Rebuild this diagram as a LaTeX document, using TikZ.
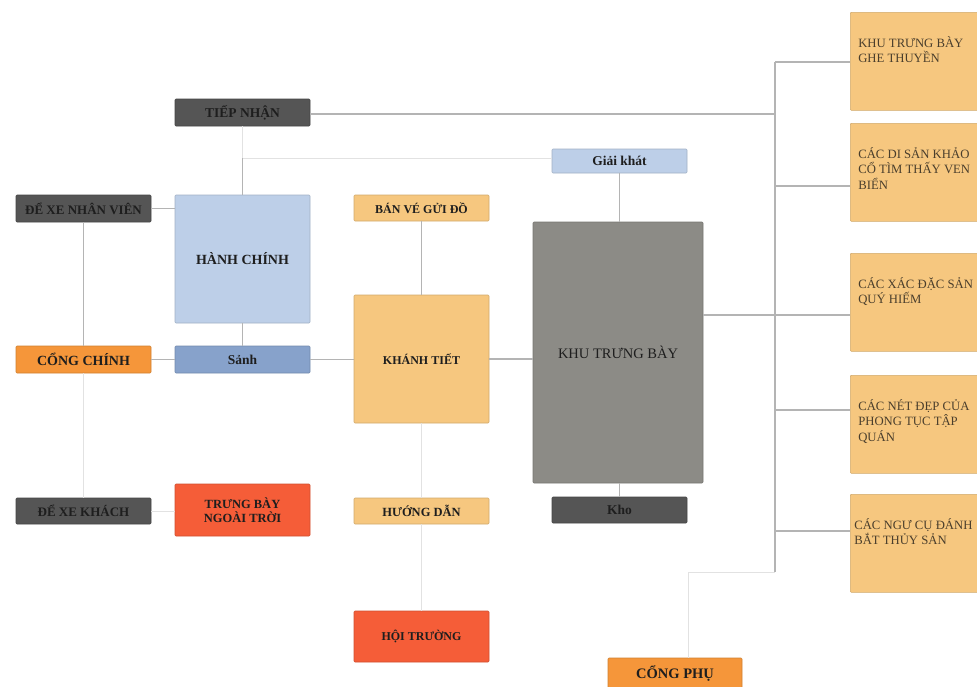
\documentclass[tikz,border=0pt]{standalone}
\usepackage{fontspec}
\setmainfont{Liberation Serif}
\usetikzlibrary{positioning}

\definecolor{boxdark}{HTML}{555555}
\definecolor{boxblue}{HTML}{BDCFE8}
\definecolor{boxsteel}{HTML}{87A2CB}
\definecolor{boxorange}{HTML}{F5963A}
\definecolor{boxred}{HTML}{F55D38}
\definecolor{boxsand}{HTML}{F6C77F}
\definecolor{boxgray}{HTML}{8C8B86}
\definecolor{linkgray}{HTML}{B4B4B4}
\definecolor{linklight}{HTML}{E2E2E2}
\definecolor{inkdark}{HTML}{1E1E1E}
\definecolor{inkbrown}{HTML}{4A3E2C}

\tikzset{
  block/.style={rectangle, rounded corners=1pt, inner sep=2pt, align=center,
    font=\bfseries, text=inkdark, line width=0.6pt},
  darkbox/.style={block, fill=boxdark, draw=boxdark!80!black},
  bluebox/.style={block, fill=boxblue, draw=boxblue!85!black},
  steelbox/.style={block, fill=boxsteel, draw=boxsteel!85!black},
  orangebox/.style={block, fill=boxorange, draw=boxorange!85!black},
  redbox/.style={block, fill=boxred, draw=boxred!85!black},
  sandbox/.style={block, fill=boxsand, draw=boxsand!85!black},
  showbox/.style={block, fill=boxgray, draw=boxgray!85!black, font=\normalfont},
  themebox/.style={rectangle, rounded corners=1pt, inner sep=0pt, anchor=north west,
    fill=boxsand, draw=boxsand!85!black, line width=0.6pt, text=inkbrown,
    minimum width=140pt, minimum height=98pt},
  link/.style={draw=linkgray, line width=1.3pt},
  faint/.style={draw=linklight, line width=1pt}
}

% theme box text, set at the top left
\newcommand{\themetext}[1]{\parbox[t][50pt][t]{124pt}{\fontsize{12.7}{15.5}\selectfont\raggedright #1}}

\begin{document}
\begin{tikzpicture}[x=1pt,y=-1pt]
  \useasboundingbox (0,0) rectangle (977,686);

  % Left column
  \node[darkbox, minimum width=135pt, minimum height=27pt, font=\bfseries\fontsize{13}{15}\selectfont]
    (dexenv) at (83.5,208.5) {ĐỂ XE NHÂN VIÊN};
  \node[orangebox, minimum width=135pt, minimum height=27pt, font=\bfseries\fontsize{14}{16}\selectfont]
    (congchinh) at (83.5,359.5) {CỔNG CHÍNH};
  \node[darkbox, minimum width=135pt, minimum height=26pt, font=\bfseries\fontsize{13}{15}\selectfont]
    (dexekhach) at (83.5,511) {ĐỂ XE KHÁCH};

  % Second column
  \node[darkbox, minimum width=135pt, minimum height=27pt, font=\bfseries\fontsize{13.5}{15}\selectfont]
    (tiepnhan) at (242.5,112.5) {TIẾP NHẬN};
  \node[bluebox, minimum width=135pt, minimum height=128pt, font=\bfseries\fontsize{14}{16}\selectfont]
    (hanhchinh) at (242.5,259) {HÀNH CHÍNH};
  \node[steelbox, minimum width=135pt, minimum height=27pt, font=\bfseries\fontsize{13.5}{15}\selectfont]
    (sanh) at (242.5,359.5) {Sảnh};
  \node[redbox, minimum width=135pt, minimum height=52pt, font=\bfseries\fontsize{12.5}{14.5}\selectfont]
    (ngoaitroi) at (242.5,510) {TRƯNG BÀY\\NGOÀI TRỜI};

  % Third column
  \node[sandbox, minimum width=135pt, minimum height=26pt, font=\bfseries\fontsize{12}{14}\selectfont]
    (banve) at (421.5,208) {BÁN VÉ GỬI ĐỒ};
  \node[sandbox, minimum width=135pt, minimum height=128pt, font=\bfseries\fontsize{12}{14}\selectfont]
    (khanhtiet) at (421.5,359) {KHÁNH TIẾT};
  \node[sandbox, minimum width=135pt, minimum height=26pt, font=\bfseries\fontsize{12.5}{14}\selectfont]
    (huongdan) at (421.5,511) {HƯỚNG DẪN};
  \node[redbox, minimum width=135pt, minimum height=51pt, font=\bfseries\fontsize{12}{14}\selectfont]
    (hoitruong) at (421.5,636.5) {HỘI TRƯỜNG};

  % Fourth column
  \node[bluebox, minimum width=135pt, minimum height=24pt, font=\bfseries\fontsize{13.5}{15}\selectfont]
    (giaikhat) at (619.5,161) {Giải khát};
  \node[showbox, minimum width=170pt, minimum height=261pt, font=\fontsize{14.5}{16}\selectfont]
    (khutrungbay) at (618,352.5) {KHU TRƯNG BÀY};
  \node[darkbox, minimum width=135pt, minimum height=26pt, font=\bfseries\fontsize{13.5}{15}\selectfont]
    (kho) at (619.5,510) {Kho};
  \node[orangebox, minimum width=134pt, minimum height=30pt, font=\bfseries\fontsize{14.5}{16}\selectfont]
    (congphu) at (675,673) {CỔNG PHỤ};

  % Theme boxes on the right
  \node[themebox] (ghethuyen) at (850,12) {\themetext{KHU TRƯNG BÀY GHE THUYỀN}};
  \node[themebox] (disan) at (850,123) {\themetext{CÁC DI SẢN KHẢO CỔ TÌM THẤY VEN BIỂN}};
  \node[themebox] (dacsan) at (850,253) {\themetext{CÁC XÁC ĐẶC SẢN QUÝ HIẾM}};
  \node[themebox] (phongtuc) at (850,375) {\themetext{CÁC NÉT ĐẸP CỦA PHONG TỤC TẬP QUÁN}};
  \node[themebox] (ngucu) at (850,494) {\themetext{\hspace*{-4pt}CÁC NGƯ CỤ ĐÁNH\\\hspace*{-4pt}BẮT THỦY SẢN}};

  % Bus towards the theme boxes
  \coordinate (bustop) at (775,62);
  \coordinate (busbot) at (775,572);
  \coordinate (phuturn) at (688,572);
  \draw[link] (bustop) -- (busbot);
  \draw[link] (bustop) -- (ghethuyen.west |- bustop);
  \foreach \y/\n in {186/disan, 410/phongtuc, 531/ngucu}
    \draw[link] (775,\y) -- (\n.west |- 0,\y);
  \draw[link] (khutrungbay.east |- 0,315) -- (dacsan.west |- 0,315);
  \draw[link] (tiepnhan.east |- 0,114) -- (bustop |- 0,114);
  \draw[faint] (busbot) -- (phuturn) -- (phuturn |- congphu.north);

  % Links between the blocks
  \coordinate (hcturn) at (242.5,158);
  \draw[faint] (tiepnhan) -- (hcturn);
  \draw[link] (hcturn) -- (hanhchinh);
  \draw[faint] (hcturn) -- (giaikhat.west |- hcturn);
  \draw[link] (giaikhat.south) -- (giaikhat.south |- khutrungbay.north);
  \draw[link] (khutrungbay.south -| kho) -- (kho);
  \draw[link] (dexenv) -- (hanhchinh.west |- dexenv);
  \draw[link] (dexenv) -- (congchinh);
  \draw[link] (hanhchinh) -- (sanh);
  \draw[link] (congchinh) -- (sanh);
  \draw[link] (sanh) -- (khanhtiet.west |- sanh);
  \draw[link] (khanhtiet) -- (khutrungbay.west |- khanhtiet);
  \draw[link] (banve) -- (khanhtiet);
  \draw[faint] (congchinh) -- (dexekhach);
  \draw[faint] (dexekhach) -- (ngoaitroi.west |- dexekhach);
  \draw[faint] (khanhtiet) -- (huongdan);
  \draw[faint] (huongdan) -- (hoitruong);
\end{tikzpicture}
\end{document}
